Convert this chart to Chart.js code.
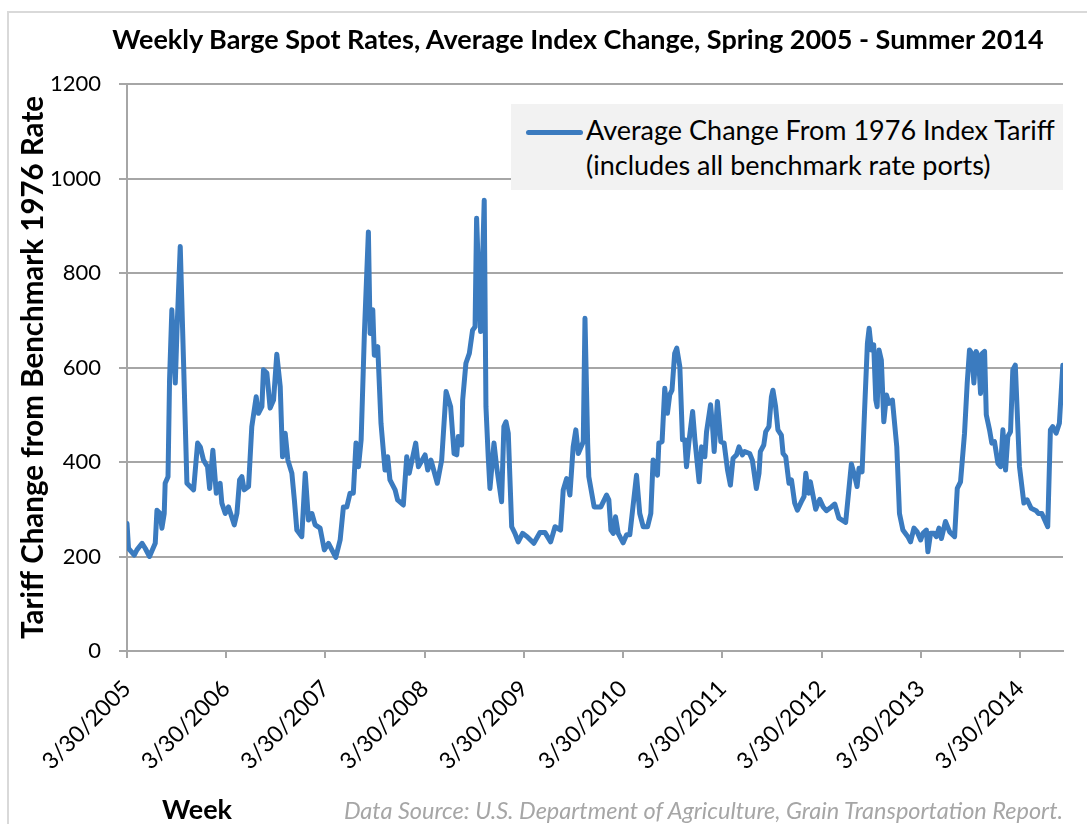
<!DOCTYPE html>
<html>
<head>
<meta charset="utf-8">
<script src="https://cdn.jsdelivr.net/npm/chart.js@4.4.1/dist/chart.umd.min.js"></script>
<style>
  html, body { margin: 0; padding: 0; background: #fff; }
  #wrap { position: relative; width: 1087px; height: 824px; overflow: hidden; font-family: Lato, "Open Sans", sans-serif; }
  #frame { position: absolute; left: 7px; top: 11px; width: 1200px; height: 1000px; border-left: 2px solid #d9d9d9; border-top: 2px solid #d9d9d9; }
  canvas { position: absolute; left: 0; top: 0; }
  .title { position: absolute; left: 0; width: 1156px; top: 23px; text-align: center; font-weight: bold; font-size: 27px; line-height: 1.2; color: #000; white-space: nowrap; }
  #legend { position: absolute; left: 511px; top: 104px; width: 552px; height: 86px; background: #f2f2f2; }
  #legend .swatch { position: absolute; left: 15px; top: 26px; width: 57px; height: 5px; border-radius: 3px; background: #3b7bbf; }
  #legend .text { position: absolute; left: 75px; top: 8px; font-size: 27px; line-height: 35px; color: #000; white-space: nowrap; }
  .week { position: absolute; left: 162px; top: 793px; font-weight: bold; font-size: 27px; line-height: 1.2; color: #000; }
  .source { position: absolute; right: 24px; top: 796px; font-style: italic; font-size: 23.5px; line-height: 1.2; color: #a6a6a6; white-space: nowrap; }
</style>
</head>
<body>
<div id="wrap">
  <div id="frame"></div>
  <canvas id="bargeChart" width="1087" height="824"></canvas>
  <div class="title">Weekly Barge Spot Rates, Average Index Change, Spring 2005 - Summer 2014</div>
  <div id="legend">
    <div class="swatch"></div>
    <div class="text">Average Change From 1976 Index Tariff<br>(includes all benchmark rate ports)</div>
  </div>
  <div class="week">Week</div>
  <div class="source">Data Source: U.S. Department of Agriculture, Grain Transportation Report.</div>
</div>
<script>
// weeks counted from 3/30/2005, turning points
const weekIdx = [
    0, 0.8, 3.8, 5.2, 7.9, 9.6, 11.8, 14.8, 15.7, 17.4, 18.3, 19.5, 20, 21.5, 22.3, 23.5, 25.3, 26.2, 27.9, 29.6,
    31.4, 33.1, 34.9, 37, 38.4, 40.1, 42.2, 43.3, 45, 46.8, 48.8, 49.7, 51.5, 53.2, 56.2, 57.6, 59, 60.2, 61.4, 63.7,
    65.4, 67.7, 68.9, 70.7, 71.5, 73.3, 75, 76.8, 78.5, 80.3, 81.5, 82.9, 84.3, 86.4, 87.7, 89, 91.6, 93.4, 95.1, 96.9,
    98.6, 101.2, 103.4, 105.6, 109.4, 111.7, 113.4, 115.2, 116.9, 118.6, 120, 121.3, 122.7, 124.4, 126.5, 127.4, 128.8, 129.6, 131.4, 133.1,
    135.2, 136.6, 137.8, 140.5, 141.8, 144.8, 146.6, 147.9, 151.3, 152.7, 156.2, 157.6, 159.3, 162.6, 164.9, 167.2, 169.6, 171.4, 172.8, 173.6,
    175.4, 175.9, 177.6, 179.4, 181.1, 182.4, 183.2, 184.6, 185.3, 187.2, 188.1, 189.3, 190.2, 192.3, 193.7, 196.3, 197.5, 198.6, 199.8, 201.6,
    203.3, 205, 207.3, 209.7, 213.2, 216.4, 219, 222, 224.3, 227.2, 228.6, 230.4, 232.1, 233.8, 235.2, 236.5, 239.1, 240, 241.4, 242,
    244.8, 248.3, 251.3, 252.5, 253.6, 254.8, 256, 257.4, 260, 261.8, 263.5, 267, 268.7, 270.5, 272.8, 274.5, 275.7, 277, 278, 278.7,
    280.4, 281.8, 283.2, 284.4, 285.6, 287, 288.1, 289.7, 291.1, 292.3, 293.2, 294.4, 296.4, 297.6, 299.8, 301.1, 302.8, 303.7, 305.8, 306.8,
    307.7, 309.4, 311.2, 312.9, 314.7, 316.2, 317.6, 319.4, 320.7, 322.5, 323.7, 326.3, 327.7, 329.8, 331.2, 331.9, 333.7, 334.7, 336.4, 337.7,
    338.5, 339.9, 341.1, 342.9, 343.8, 345.2, 346.9, 348.2, 349.9, 351.3, 353.4, 354.8, 355.7, 357.2, 358.1, 360.9, 363, 364.8, 366.5, 369.1,
    370.9, 373.1, 376.6, 379.6, 381.4, 382.6, 383.6, 385.2, 386.6, 388, 388.9, 390.1, 391.3, 392.4, 393.1, 394.1, 395.3, 396.6, 398, 399.3,
    401.1, 403.4, 404.8, 406.6, 409.2, 410.6, 412.4, 414.1, 415.9, 417.1, 418.9, 419.7, 421.1, 422.9, 424.1, 425.5, 426.8, 428.9, 431.1, 433.7,
    435.1, 436.8, 438.9, 440.3, 441.5, 442.7, 443.8, 445, 446.2, 447.3, 448.2, 449.4, 450.3, 452, 453.2, 454.6, 456.4, 457.8, 459, 460.4,
    461.6, 463, 464.2, 465.5, 467.7, 470, 471.7, 473.8, 476.4, 477.6, 479.4, 482.5, 483.9, 485.1, 486.9, 488.6, 490.4
];
const avgChange = [
    270, 217, 203, 214, 228, 217, 200, 228, 298, 291, 260, 291, 355, 369, 574, 722, 567, 679, 856, 616,
    355, 348, 341, 440, 432, 404, 390, 344, 425, 334, 355, 313, 291, 305, 267, 291, 362, 369, 341, 348,
    475, 538, 503, 517, 595, 588, 514, 531, 628, 559, 411, 461, 404, 376, 320, 256, 242, 376, 277, 291,
    267, 260, 214, 228, 198, 235, 305, 305, 334, 334, 440, 390, 447, 672, 887, 672, 722, 626, 644, 482,
    383, 411, 362, 341, 320, 309, 411, 376, 440, 390, 415, 383, 404, 355, 404, 549, 517, 418, 415, 454,
    436, 531, 609, 630, 679, 686, 916, 750, 676, 954, 517, 411, 344, 440, 390, 316, 475, 485, 461, 263,
    249, 231, 249, 242, 228, 251, 251, 231, 263, 256, 341, 365, 330, 432, 468, 418, 443, 704, 440, 369,
    305, 305, 330, 320, 256, 249, 284, 249, 229, 246, 246, 372, 291, 263, 263, 291, 404, 397, 372, 440,
    443, 556, 503, 542, 552, 630, 641, 602, 447, 447, 390, 440, 507, 447, 358, 432, 411, 464, 521, 478,
    422, 528, 443, 440, 383, 351, 408, 415, 432, 415, 422, 418, 404, 344, 376, 422, 436, 464, 475, 538,
    552, 517, 468, 457, 418, 411, 355, 362, 313, 298, 316, 327, 376, 334, 358, 300, 321, 305, 297, 305,
    311, 281, 272, 396, 369, 348, 387, 379, 517, 651, 683, 637, 648, 531, 517, 637, 616, 485, 542, 524,
    531, 432, 291, 256, 242, 231, 260, 252, 235, 249, 256, 210, 249, 249, 242, 260, 238, 274, 252, 242,
    344, 358, 461, 567, 637, 630, 567, 634, 623, 545, 630, 634, 500, 468, 440, 443, 397, 390, 468, 383,
    454, 464, 595, 605, 390, 313, 320, 302, 297, 291, 291, 263, 468, 475, 461, 482, 605
];
const tickWeeks = [0, 52, 104, 156, 208, 260, 312, 364, 416, 468];
const tickLabels = ['3/30/2005', '3/30/2006', '3/30/2007', '3/30/2008', '3/30/2009',
    '3/30/2010', '3/30/2011', '3/30/2012', '3/30/2013', '3/30/2014'];

const gridGray = '#a6a6a6';
const points = weekIdx.map((w, i) => ({ x: w, y: avgChange[i] }));

const ctx = document.getElementById('bargeChart').getContext('2d');
new Chart(ctx, {
    type: 'line',
    data: {
        datasets: [{
            label: 'Average Change From 1976 Index Tariff (includes all benchmark rate ports)',
            data: points,
            borderColor: '#3b7bbf',
            borderWidth: 5,
            borderJoinStyle: 'round',
            borderCapStyle: 'round',
            pointRadius: 0,
            tension: 0,
            fill: false
        }]
    },
    options: {
        responsive: false,
        animation: false,
        layout: { padding: { top: 84, right: 24, bottom: 0, left: 0 } },
        plugins: {
            legend: { display: false },
            title: { display: false },
            tooltip: { enabled: false }
        },
        scales: {
            x: {
                type: 'linear',
                min: 0,
                max: 490.5,
                afterFit: (scale) => { scale.height = 173; },
                afterBuildTicks: (scale) => { scale.ticks = tickWeeks.map(v => ({ value: v })); },
                grid: { drawOnChartArea: false, drawTicks: true, tickLength: 7, color: gridGray, lineWidth: 2 },
                border: { color: gridGray, width: 2 },
                ticks: {
                    autoSkip: false,
                    minRotation: 45,
                    maxRotation: 45,
                    padding: 17,
                    color: '#000',
                    font: { family: 'Lato', size: 23 },
                    callback: (value, index) => tickLabels[index]
                }
            },
            y: {
                min: 0,
                max: 1200,
                afterFit: (scale) => { scale.width = 127; },
                grid: { color: gridGray, lineWidth: 2, tickLength: 8 },
                border: { color: gridGray, width: 2 },
                ticks: {
                    stepSize: 200,
                    padding: 18,
                    color: '#000',
                    font: { family: 'Lato', size: 22 },
                    callback: (value) => String(value)
                },
                title: {
                    display: true,
                    text: 'Tariff Change from Benchmark 1976 Rate',
                    color: '#000',
                    padding: { top: 16, bottom: 0 },
                    font: { family: 'Lato', size: 29.5, weight: 'bold' }
                }
            }
        }
    }
});
</script>
</body>
</html>
